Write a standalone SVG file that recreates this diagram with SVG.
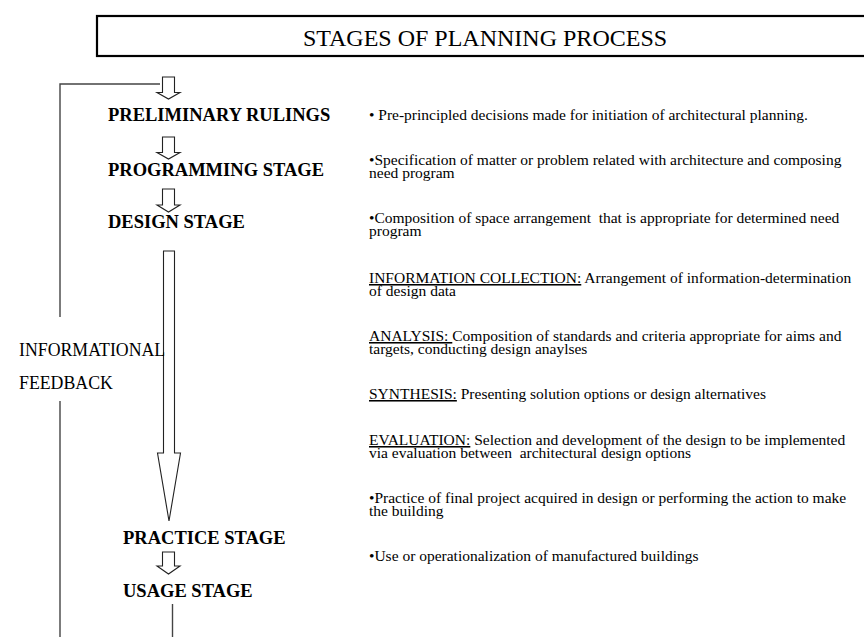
<svg xmlns="http://www.w3.org/2000/svg" width="864" height="637" viewBox="0 0 864 637">
<style>
.stage{font-family:"Liberation Serif","Times New Roman",serif;font-weight:bold;font-size:18.5px;fill:#000}
.desc{font-family:"Liberation Serif","Times New Roman",serif;font-size:15.5px;fill:#000}
.fb{font-family:"Liberation Serif","Times New Roman",serif;font-size:17.8px;fill:#000}
.title{font-family:"Liberation Serif","Times New Roman",serif;font-size:24px;fill:#000}
.u{text-decoration:underline}
.arrow{fill:#fff;stroke:#222;stroke-width:1.1;stroke-linejoin:miter}
.line{fill:none;stroke:#444;stroke-width:1.4}
</style>
<rect width="864" height="637" fill="#fff"/>
<g id="title">
<rect x="97" y="16" width="800" height="40" fill="#fff" stroke="#000" stroke-width="2.2"/>
<text class="title" x="485" y="46" text-anchor="middle">STAGES OF PLANNING PROCESS</text>
</g>
<g id="connectors">
<path class="line" d="M160 84 H60 V317"/>
<path class="line" d="M60 401 V637"/>
<path class="line" d="M172.5 604 V637"/>
<path class="arrow" d="M162.5 77 H174.5 V92.5 H180 L168.5 99 L157 92.5 H162.5 Z"/>
<path class="arrow" d="M162.5 137 H174.5 V152.5 H180 L168.5 159 L157 152.5 H162.5 Z"/>
<path class="arrow" d="M162.5 189 H174.5 V205 H180 L168.5 212 L157 205 H162.5 Z"/>
<path class="arrow" d="M163.5 251 H174.5 V453 H180.5 L169 521 L157.5 453 H163.5 Z"/>
<path class="arrow" d="M162.5 552 H174.5 V566 H180 L168.5 574 L157 566 H162.5 Z"/>
</g>
<g id="node-preliminary"><text class="stage" x="108" y="121">PRELIMINARY RULINGS</text></g>
<g id="node-programming"><text class="stage" x="108" y="176">PROGRAMMING STAGE</text></g>
<g id="node-design"><text class="stage" x="108" y="228">DESIGN STAGE</text></g>
<g id="node-practice"><text class="stage" x="123" y="544">PRACTICE STAGE</text></g>
<g id="node-usage"><text class="stage" x="123" y="597">USAGE STAGE</text></g>
<g id="feedback-label">
<text class="fb" x="19" y="356">INFORMATIONAL</text>
<text class="fb" x="19" y="389">FEEDBACK</text>
</g>
<g id="descriptions">
<text class="desc" x="369" y="120">• Pre-principled decisions made for initiation of architectural planning.</text>
<text class="desc" x="369" y="165">•Specification of matter or problem related with architecture and composing</text>
<text class="desc" x="369" y="178">need program</text>
<text class="desc" x="369" y="223" xml:space="preserve">•Composition of space arrangement  that is appropriate for determined need</text>
<text class="desc" x="369" y="236">program</text>
<text class="desc" x="369" y="283"><tspan class="u">INFORMATION COLLECTION:</tspan> Arrangement of information-determination</text>
<text class="desc" x="369" y="296">of design data</text>
<text class="desc" x="369" y="341"><tspan class="u">ANALYSIS: </tspan>Composition of standards and criteria appropriate for aims and</text>
<text class="desc" x="369" y="354">targets, conducting design anaylses</text>
<text class="desc" x="369" y="399"><tspan class="u">SYNTHESIS:</tspan> Presenting solution options or design alternatives</text>
<text class="desc" x="369" y="445"><tspan class="u">EVALUATION:</tspan> Selection and development of the design to be implemented</text>
<text class="desc" x="369" y="458" xml:space="preserve">via evaluation between  architectural design options</text>
<text class="desc" x="369" y="503">•Practice of final project acquired in design or performing the action to make</text>
<text class="desc" x="369" y="516">the building</text>
<text class="desc" x="369" y="561">•Use or operationalization of manufactured buildings</text>
</g>
</svg>
